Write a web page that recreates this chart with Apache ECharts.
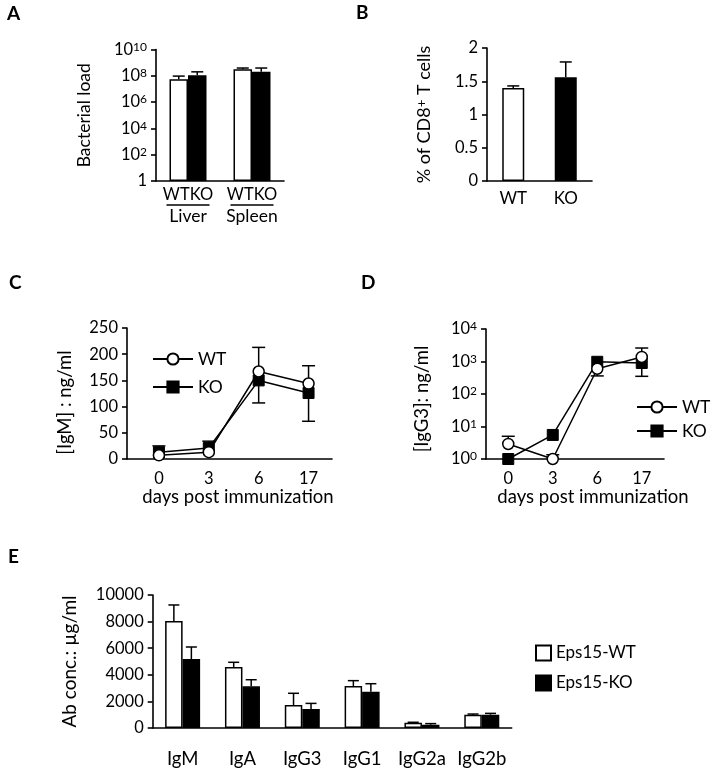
<!DOCTYPE html>
<html><head><meta charset="utf-8">
<script src="https://cdn.jsdelivr.net/npm/echarts@6/dist/echarts.min.js"></script>
<style>html,body{margin:0;padding:0;background:#fff}#c{width:714px;height:773px}</style>
</head><body><div id="c"></div>
<script>
// ---- Panel A: bacterial load ----
const aCategories = ['Liver', 'Spleen'];
const aWT = [5.4e7, 3.1e8];
const aWTErr = [9.5e7, 3.9e8];
const aKO = [1.1e8, 2.0e8];
const aKOErr = [2.0e8, 3.9e8];
// ---- Panel B: % CD8+ T cells ----
const bCategories = ['WT', 'KO'];
const bValues = [1.40, 1.56];
const bErr = [1.43, 1.79];
// ---- Panel C: IgM ----
const days = ['0', '3', '6', '17'];
const cWT = [7, 13, 167, 144];
const cWTErrEnd = [null, null, 213, 178];
const cKO = [13, 21, 150, 126];
const cKOErrEnd = [25, 34, 107, 72];
// ---- Panel D: IgG3 ----
const dWT = [2.9, 1, 600, 1380];
const dWTErrEnd = [5, 1.35, 360, 2600];
const dKO = [1, 5.5, 980, 900];
const dKOErrEnd = [null, null, null, 350];
// ---- Panel E: Ab concentrations ----
const eCategories = ['IgM', 'IgA', 'IgG3', 'IgG1', 'IgG2a', 'IgG2b'];
const eWT = [8050, 4590, 1730, 3160, 400, 1000];
const eWTErr = [9250, 4940, 2610, 3560, 430, 1050];
const eKO = [5190, 3130, 1430, 2730, 250, 1000];
const eKOErr = [6090, 3630, 1850, 3330, 330, 1100];

const FONT = 'Lato';
const K = '#000';
const chart = echarts.init(document.getElementById('c'));

const tf = s => ({fontFamily: FONT, fontSize: s, color: K});
const num = tf(16.5);      // tick digits
const word = tf(18.5);     // axis names / categories
const supRich = {
  b: {fontFamily: FONT, fontSize: 16.5, color: K},
  s: {fontFamily: FONT, fontSize: 12, color: K, verticalAlign: 'top'}
};
const nameRich = {
  s: {fontFamily: FONT, fontSize: 13, color: K, verticalAlign: 'top'}
};
const axLine = {onZero: false, lineStyle: {color: K, width: 1.6}};
const yLine = {show: true, onZero: false, lineStyle: {color: K, width: 1.6}};
const yTick = {show: true, length: 5, lineStyle: {color: K, width: 1.6}};

function errData(vals, ends) {
  return vals.map((v, i) => ends[i] == null ? null : [i, v, ends[i]]).filter(d => d);
}
function errRender(offset, cap) {
  return function (params, api) {
    const x = api.value(0);
    const p1 = api.coord([x, api.value(1)]);
    const p2 = api.coord([x, api.value(2)]);
    const cx = p1[0] + offset;
    const st = {stroke: K, lineWidth: 1.5};
    return {type: 'group', children: [
      {type: 'line', shape: {x1: cx, y1: p1[1], x2: cx, y2: p2[1]}, style: st},
      {type: 'line', shape: {x1: cx - cap / 2, y1: p2[1], x2: cx + cap / 2, y2: p2[1]}, style: st}
    ]};
  };
}
function errSeries(ax, vals, ends, offset, cap) {
  return {type: 'custom', xAxisIndex: ax, yAxisIndex: ax, z: 1, silent: true,
    renderItem: errRender(offset, cap), data: errData(vals, ends)};
}
const white = {color: '#fff', borderColor: K, borderWidth: 1.5};
const black = {color: K, borderColor: K, borderWidth: 1.5};
const supFmt = v => v === 1 ? '{b|1}' : '{b|10}{s|' + Math.round(Math.log10(v)) + '}';
const plain = v => String(v);

const AW = 18.5, BW = 22, EW = 17.5;

const option = {
  animation: false,
  textStyle: {fontFamily: FONT},
  grid: [
    {left: 156, top: 49.5, width: 128, height: 131.5, outerBoundsMode: 'none'},
    {left: 487, top: 48, width: 105, height: 133, outerBoundsMode: 'none'},
    {left: 127, top: 328, width: 205, height: 131, outerBoundsMode: 'none'},
    {left: 486, top: 329, width: 178, height: 130, outerBoundsMode: 'none'},
    {left: 152.7, top: 595, width: 359, height: 133, outerBoundsMode: 'none'}
  ],
  xAxis: [
    {gridIndex: 0, type: 'category', data: aCategories, axisLine: axLine, axisTick: {show: false},
      axisLabel: {margin: 5, interval: 0, formatter: v => '{a|WTKO}\n{u| }\n{b|' + v + '}',
        rich: {a: Object.assign({lineHeight: 17}, tf(16.5)), b: Object.assign({lineHeight: 18}, tf(17.5)),
          u: {width: 43, height: 1.5, backgroundColor: K, lineHeight: 4, fontSize: 1}}}},
    {gridIndex: 1, type: 'category', data: bCategories, axisLine: axLine, axisTick: {show: false},
      axisLabel: Object.assign({margin: 9, interval: 0}, tf(17))},
    {gridIndex: 2, type: 'value', min: -0.64, max: 3.47, axisLine: axLine, axisTick: {show: false},
      splitLine: {show: false},
      axisLabel: Object.assign({margin: 11, customValues: [0, 1, 2, 3], formatter: v => days[Math.round(v)]}, num),
      name: 'days post immunization', nameLocation: 'middle', nameGap: 29,
      nameTextStyle: Object.assign({padding: [0, 0, 0, 17]}, word)},
    {gridIndex: 3, type: 'value', min: -0.5, max: 3.5, axisLine: axLine, axisTick: {show: false},
      splitLine: {show: false},
      axisLabel: Object.assign({margin: 11, customValues: [0, 1, 2, 3], formatter: v => days[Math.round(v)]}, num),
      name: 'days post immunization', nameLocation: 'middle', nameGap: 29,
      nameTextStyle: Object.assign({padding: [0, 0, 0, 36]}, word)},
    {gridIndex: 4, type: 'category', data: eCategories, axisLine: axLine, axisTick: {show: false},
      axisLabel: Object.assign({margin: 22, interval: 0}, word)}
  ],
  yAxis: [
    {gridIndex: 0, type: 'log', logBase: 100, min: 1, max: 1e10, axisLine: yLine,
      axisTick: yTick, splitLine: {show: false},
      axisLabel: {margin: 9, formatter: supFmt, rich: supRich},
      name: 'Bacterial load', nameLocation: 'middle', nameGap: 63, nameTextStyle: tf(17.5)},
    {gridIndex: 1, type: 'value', min: 0, max: 2, interval: 0.5, axisLine: yLine,
      axisTick: yTick, splitLine: {show: false}, axisLabel: Object.assign({margin: 9, formatter: plain}, num),
      name: '% of CD8{s|+} T cells', nameLocation: 'middle', nameGap: 54,
      nameTextStyle: Object.assign({rich: nameRich}, tf(18))},
    {gridIndex: 2, type: 'value', min: 0, max: 250, interval: 50, axisLine: yLine,
      axisTick: yTick, splitLine: {show: false}, axisLabel: Object.assign({margin: 9, formatter: plain}, num),
      name: '[IgM] : ng/ml', nameLocation: 'middle', nameGap: 52,
      nameTextStyle: Object.assign({padding: [0, 18, 0, 0]}, word)},
    {gridIndex: 3, type: 'log', logBase: 10, min: 1, max: 1e4, axisLine: yLine,
      axisTick: yTick, splitLine: {show: false},
      axisLabel: {margin: 9, formatter: v => '{b|10}{s|' + Math.round(Math.log10(v)) + '}', rich: supRich},
      name: '[IgG3]: ng/ml', nameLocation: 'middle', nameGap: 54,
      nameTextStyle: Object.assign({padding: [0, 10, 0, 0]}, word)},
    {gridIndex: 4, type: 'value', min: 0, max: 10000, interval: 2000, axisLine: yLine,
      axisTick: yTick, splitLine: {show: false}, axisLabel: Object.assign({margin: 9, formatter: plain}, num),
      name: 'Ab conc.: µg/ml', nameLocation: 'middle', nameGap: 73, nameTextStyle: tf(19)}
  ],
  legend: [
    {orient: 'vertical', left: 152, top: 350, padding: 0, itemWidth: 40, itemHeight: 14, itemGap: 10,
      selectedMode: false, data: ['WT', 'KO'], textStyle: Object.assign({lineHeight: 18}, tf(17.5))},
    {orient: 'vertical', left: 636, top: 398, padding: 0, itemWidth: 40, itemHeight: 14, itemGap: 6,
      selectedMode: false, data: ['WT', 'KO'], textStyle: Object.assign({lineHeight: 18}, tf(17.5))},
    {orient: 'vertical', left: 535, top: 644, padding: 0, itemWidth: 15, itemHeight: 15, itemGap: 12, icon: 'rect',
      selectedMode: false, data: ['Eps15-WT', 'Eps15-KO'], textStyle: Object.assign({lineHeight: 18}, tf(17))}
  ],
  graphic: [
    ['A', 7, 15], ['B', 356, 14], ['C', 9, 284], ['D', 361, 284], ['E', 8, 558]
  ].map(([t, x, y]) => ({type: 'text', left: x, top: y - 11,
    style: {text: t, fontFamily: FONT, fontWeight: 'bold', fontSize: 19, fill: K}})),
  series: [
    // A
    {type: 'bar', xAxisIndex: 0, yAxisIndex: 0, barWidth: AW, barGap: 0, itemStyle: white, data: aWT},
    {type: 'bar', xAxisIndex: 0, yAxisIndex: 0, barWidth: AW, barGap: 0, itemStyle: black, data: aKO},
    errSeries(0, aWT, aWTErr, -AW / 2, 12),
    errSeries(0, aKO, aKOErr, AW / 2, 12),
    // B
    {type: 'bar', xAxisIndex: 1, yAxisIndex: 1, barWidth: BW,
      data: bValues.map((v, i) => ({value: v, itemStyle: i === 0 ? white : black}))},
    errSeries(1, bValues, bErr, 0, 12),
    // C
    {name: 'WT', type: 'line', xAxisIndex: 2, yAxisIndex: 2, z: 4, symbol: 'circle', symbolSize: 11,
      lineStyle: {color: K, width: 1.5}, itemStyle: {color: '#fff', borderColor: K, borderWidth: 1.5},
      data: cWT.map((v, i) => [i, v])},
    {name: 'KO', type: 'line', xAxisIndex: 2, yAxisIndex: 2, z: 3, symbol: 'rect', symbolSize: 11,
      lineStyle: {color: K, width: 1.5}, itemStyle: {color: K, borderColor: K, borderWidth: 1},
      data: cKO.map((v, i) => [i, v])},
    errSeries(2, cWT, cWTErrEnd, 0, 13),
    errSeries(2, cKO, cKOErrEnd, 0, 13),
    // D
    {name: 'WT', type: 'line', xAxisIndex: 3, yAxisIndex: 3, z: 4, symbol: 'circle', symbolSize: 11,
      lineStyle: {color: K, width: 1.5}, itemStyle: {color: '#fff', borderColor: K, borderWidth: 1.5},
      data: dWT.map((v, i) => [i, v])},
    {name: 'KO', type: 'line', xAxisIndex: 3, yAxisIndex: 3, z: 3, symbol: 'rect', symbolSize: 11,
      lineStyle: {color: K, width: 1.5}, itemStyle: {color: K, borderColor: K, borderWidth: 1},
      data: dKO.map((v, i) => [i, v])},
    errSeries(3, dWT, dWTErrEnd, 0, 13),
    errSeries(3, dKO, dKOErrEnd, 0, 13),
    // E
    {name: 'Eps15-WT', type: 'bar', xAxisIndex: 4, yAxisIndex: 4, barWidth: EW, barGap: 0, itemStyle: white, data: eWT},
    {name: 'Eps15-KO', type: 'bar', xAxisIndex: 4, yAxisIndex: 4, barWidth: EW, barGap: 0, itemStyle: black, data: eKO},
    errSeries(4, eWT, eWTErr, -EW / 2, 11),
    errSeries(4, eKO, eKOErr, EW / 2, 11)
  ]
};
chart.setOption(option);
</script></body></html>
